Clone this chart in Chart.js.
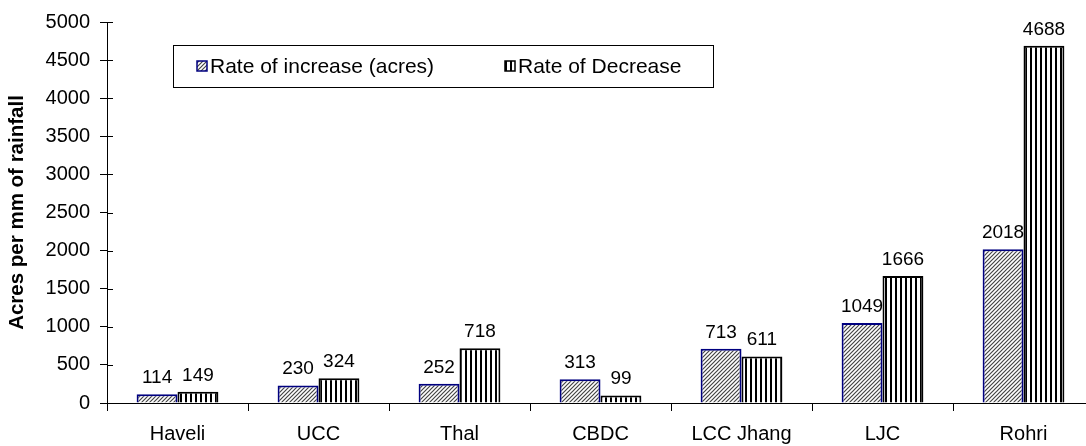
<!DOCTYPE html>
<html>
<head>
<meta charset="utf-8">
<script src="https://cdn.jsdelivr.net/npm/chart.js@4.4.1/dist/chart.umd.min.js"></script>
<style>
  html, body { margin: 0; padding: 0; background: #fff; overflow: hidden; }
  #wrap { width: 1100px; height: 446px; }
</style>
</head>
<body>
<div id="wrap"><canvas id="chart"></canvas></div>
<script>
const categories = ['Haveli', 'UCC', 'Thal', 'CBDC', 'LCC Jhang', 'LJC', 'Rohri'];
const increaseValues = [114, 230, 252, 313, 713, 1049, 2018];
const decreaseValues = [149, 324, 718, 99, 611, 1666, 4688];
const seriesNames = ['Rate of increase (acres)', 'Rate of Decrease'];

const FONT = '"Liberation Sans", Arial, sans-serif';

function makeDiagonal() {
    const c = document.createElement('canvas');
    c.width = 4; c.height = 4;
    const g = c.getContext('2d');
    g.fillStyle = '#fff';
    g.fillRect(0, 0, 4, 4);
    g.strokeStyle = '#444';
    g.lineWidth = 1.2;
    g.beginPath();
    g.moveTo(-1, 5); g.lineTo(5, -1);
    g.moveTo(-1, 1); g.lineTo(1, -1);
    g.moveTo(3, 5); g.lineTo(5, 3);
    g.stroke();
    return g.createPattern(c, 'repeat');
}

function makeVertical() {
    const c = document.createElement('canvas');
    c.width = 5; c.height = 5;
    const g = c.getContext('2d');
    g.fillStyle = '#fff';
    g.fillRect(0, 0, 5, 5);
    g.fillStyle = '#000';
    g.fillRect(0, 0, 2, 5);
    return g.createPattern(c, 'repeat');
}

const diagPattern = makeDiagonal();
const vertPattern = makeVertical();

// draws the value above every bar
const valueLabels = {
    id: 'valueLabels',
    afterDatasetsDraw(chart) {
        const ctx = chart.ctx;
        ctx.save();
        ctx.font = '19px ' + FONT;
        ctx.fillStyle = '#000';
        ctx.textAlign = 'center';
        ctx.textBaseline = 'alphabetic';
        chart.data.datasets.forEach((ds, i) => {
            chart.getDatasetMeta(i).data.forEach((bar, j) => {
                ctx.fillText(ds.data[j], bar.x, bar.y - 11);
            });
        });
        ctx.restore();
    }
};

// boxed legend inside the plot, plus tick marks crossing the y axis
const boxLegend = {
    id: 'boxLegend',
    afterDraw(chart) {
        const ctx = chart.ctx;
        const area = chart.chartArea;
        ctx.save();
        ctx.fillStyle = '#fff';
        ctx.fillRect(173.5, 45.5, 540, 42);
        ctx.strokeStyle = '#000';
        ctx.lineWidth = 1;
        ctx.strokeRect(173.5, 45.5, 540, 42);

        const items = [
            { x: 197, fill: diagPattern, border: '#000080' },
            { x: 505, fill: vertPattern, border: '#000' }
        ];
        ctx.font = '21px ' + FONT;
        ctx.textBaseline = 'middle';
        items.forEach((it, i) => {
            ctx.fillStyle = it.fill;
            ctx.fillRect(it.x, 61, 10, 10);
            ctx.strokeStyle = it.border;
            ctx.lineWidth = 1.5;
            ctx.strokeRect(it.x, 61, 10, 10);
            ctx.fillStyle = '#000';
            ctx.fillText(seriesNames[i], it.x + 13, 67);
        });

        // inner half of y-axis ticks
        const y = chart.scales.y;
        ctx.strokeStyle = '#000';
        ctx.lineWidth = 1;
        ctx.beginPath();
        y.ticks.forEach(t => {
            const py = Math.round(y.getPixelForValue(t.value)) + 0.5;
            ctx.moveTo(area.left, py);
            ctx.lineTo(area.left + 6, py);
        });
        ctx.stroke();
        ctx.restore();
    }
};

new Chart(document.getElementById('chart'), {
    type: 'bar',
    data: {
        labels: categories,
        datasets: [
            {
                label: seriesNames[0],
                data: increaseValues,
                backgroundColor: diagPattern,
                borderColor: '#000080',
                borderWidth: 2
            },
            {
                label: seriesNames[1],
                data: decreaseValues,
                backgroundColor: vertPattern,
                borderColor: '#000',
                borderWidth: 2
            }
        ]
    },
    options: {
        responsive: true,
        maintainAspectRatio: false,
        animation: false,
        layout: { padding: { top: 20, right: 6, left: 0, bottom: 0 } },
        datasets: {
            bar: { categoryPercentage: 0.58, barPercentage: 1.0 }
        },
        plugins: {
            legend: { display: false },
            tooltip: { enabled: false }
        },
        scales: {
            x: {
                grid: {
                    offset: true,
                    drawOnChartArea: false,
                    tickLength: 8,
                    color: '#000'
                },
                border: { color: '#000', width: 1 },
                ticks: {
                    color: '#000',
                    font: { family: FONT, size: 20 },
                    padding: 11,
                    maxRotation: 0,
                    autoSkip: false
                },
                afterFit(scale) { scale.height = 43; }
            },
            y: {
                min: 0,
                max: 5000,
                grid: {
                    drawOnChartArea: false,
                    tickLength: 7,
                    color: '#000'
                },
                border: { color: '#000', width: 1 },
                ticks: {
                    stepSize: 500,
                    color: '#000',
                    font: { family: FONT, size: 20 },
                    padding: 10,
                    callback: v => String(v)
                },
                title: {
                    display: true,
                    text: 'Acres per mm of rainfall',
                    color: '#000',
                    font: { family: FONT, size: 20.5, weight: 'bold' },
                    padding: { top: 5, bottom: 0 }
                },
                afterFit(scale) { scale.width = 107; }
            }
        }
    },
    plugins: [valueLabels, boxLegend]
});
</script>
</body>
</html>
